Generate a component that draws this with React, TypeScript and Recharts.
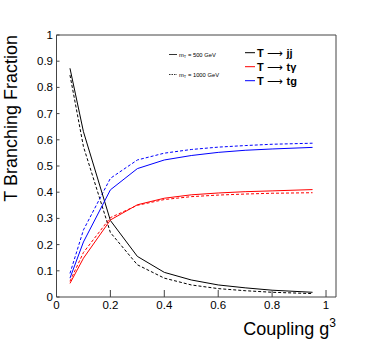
import { LineChart, Line, XAxis, YAxis, ReferenceArea } from 'recharts';

const couplings = [0.05, 0.1, 0.2, 0.3, 0.4, 0.5, 0.6, 0.7, 0.8, 0.95];

// m_T = 500 GeV (solid)
const jj500 = [0.873, 0.631, 0.292, 0.155, 0.094, 0.065, 0.046, 0.035, 0.026, 0.018];
const tgam500 = [0.052, 0.148, 0.294, 0.352, 0.377, 0.39, 0.397, 0.402, 0.405, 0.41];
const tg500 = [0.072, 0.21, 0.409, 0.49, 0.523, 0.54, 0.552, 0.56, 0.565, 0.571];

// m_T = 1000 GeV (dashed)
const jj1000 = [0.847, 0.574, 0.246, 0.123, 0.072, 0.046, 0.032, 0.024, 0.018, 0.013];
const tgam1000 = [0.06, 0.17, 0.303, 0.35, 0.372, 0.383, 0.389, 0.393, 0.396, 0.398];
const tg1000 = [0.09, 0.256, 0.453, 0.523, 0.549, 0.563, 0.572, 0.578, 0.583, 0.587];

const xTicks = [0, 0.2, 0.4, 0.6, 0.8, 1];
const yTicks = [0, 0.1, 0.2, 0.3, 0.4, 0.5, 0.6, 0.7, 0.8, 0.9, 1];

const data = couplings.map((g, i) => ({
  g,
  jj500: jj500[i], tgam500: tgam500[i], tg500: tg500[i],
  jj1000: jj1000[i], tgam1000: tgam1000[i], tg1000: tg1000[i],
}));

const FONT = '"Liberation Sans", Arial, sans-serif';
const FRAME = '#444';

function LeftTick({ x, y, payload }: any) {
  return (
    <g>
      <line x1={x} x2={x + 3} y1={y} y2={y} stroke={FRAME} />
      <text x={x - 3.5} y={y + 4} textAnchor="end" fontSize={11.5} fontFamily={FONT} fill="#000">{String(payload.value)}</text>
    </g>
  );
}

function BottomTick({ x, y, payload }: any) {
  return (
    <g>
      {payload.value !== 0 && <line x1={x} x2={x} y1={y} y2={y - 7} stroke={FRAME} />}
      <text x={x} y={y + 11.5} textAnchor="middle" fontSize={11.5} fontFamily={FONT} fill="#000">{String(payload.value)}</text>
    </g>
  );
}

function TopTick({ x, y, payload }: any) {
  if (payload.value === 0) return <g />;
  return <line x1={x} x2={x} y1={y} y2={y + 7} stroke={FRAME} />;
}

function RightTick({ x, y, payload }: any) {
  if (payload.value === 0 || payload.value === 1) return <g />;
  return <line x1={x} x2={x - 8} y1={y} y2={y} stroke={FRAME} />;
}

function Arrow() {
  return <tspan fontFamily='"DejaVu Sans", sans-serif' fontWeight="normal" fontSize={11}> ⟶ </tspan>;
}

export default function App() {
  const W = 374, H = 351;
  return (
    <div style={{ position: 'absolute', left: 0, top: 0, width: W, height: H, background: '#fff' }}>
      <LineChart width={W} height={H} data={data} margin={{ top: 35, right: 38, left: 0, bottom: 0 }}>
        <XAxis xAxisId="b" dataKey="g" type="number" domain={[0, 1.037]} ticks={xTicks} allowDataOverflow
          height={54} axisLine={false} tickLine={false} tickSize={0} tickMargin={0} tick={<BottomTick />} />
        <XAxis xAxisId="t" orientation="top" dataKey="g" type="number" domain={[0, 1.037]} ticks={xTicks} allowDataOverflow
          height={0} axisLine={false} tickLine={false} tickSize={0} tickMargin={0} tick={<TopTick />} />
        <YAxis yAxisId="l" type="number" domain={[0, 1]} ticks={yTicks} width={56.5}
          axisLine={false} tickLine={false} tickSize={0} tickMargin={0} tick={<LeftTick />} />
        <YAxis yAxisId="r" orientation="right" type="number" domain={[0, 1]} ticks={yTicks} width={0}
          axisLine={false} tickLine={false} tickSize={0} tickMargin={0} tick={<RightTick />} />
        <ReferenceArea xAxisId="b" yAxisId="l" x1={0} x2={1.037} y1={0} y2={1} fill="none" stroke={FRAME} strokeWidth={1} ifOverflow="extendDomain" />
        <Line xAxisId="b" yAxisId="l" dataKey="jj1000" stroke="#000" strokeWidth={1} strokeDasharray="3 2" dot={false} isAnimationActive={false} />
        <Line xAxisId="b" yAxisId="l" dataKey="tgam1000" stroke="#ff0000" strokeWidth={1} strokeDasharray="3 2" dot={false} isAnimationActive={false} />
        <Line xAxisId="b" yAxisId="l" dataKey="tg1000" stroke="#0000ff" strokeWidth={1} strokeDasharray="3 2" dot={false} isAnimationActive={false} />
        <Line xAxisId="b" yAxisId="l" dataKey="jj500" stroke="#000" strokeWidth={1} dot={false} isAnimationActive={false} />
        <Line xAxisId="b" yAxisId="l" dataKey="tgam500" stroke="#ff0000" strokeWidth={1} dot={false} isAnimationActive={false} />
        <Line xAxisId="b" yAxisId="l" dataKey="tg500" stroke="#0000ff" strokeWidth={1} dot={false} isAnimationActive={false} />
      </LineChart>
      <svg width={W} height={H} style={{ position: 'absolute', left: 0, top: 0, pointerEvents: 'none' }} fontFamily={FONT}>
        <text transform="translate(16.5,35) rotate(-90)" textAnchor="end" fontSize={18} fill="#000">T Branching Fraction</text>
        <text x={336} y={335} textAnchor="end" fontSize={18} fill="#000">
          Coupling g<tspan dy={-8} fontSize={12}>3</tspan>
        </text>

        <line x1={169} x2={177} y1={54.5} y2={54.5} stroke="#000" strokeWidth={0.8} />
        <text x={179} y={56.5} fontSize={5.8} fill="#000">m<tspan fontSize={4} dy={1.5}>T</tspan><tspan dy={-1.5}> = 500 GeV</tspan></text>
        <line x1={169} x2={177} y1={74.5} y2={74.5} stroke="#000" strokeWidth={0.8} strokeDasharray="1.5 1" />
        <text x={179} y={76.5} fontSize={5.8} fill="#000">m<tspan fontSize={4} dy={1.5}>T</tspan><tspan dy={-1.5}> = 1000 GeV</tspan></text>

        <line x1={245} x2={255} y1={52.7} y2={52.7} stroke="#000" />
        <text x={257} y={57} fontSize={11} fontWeight="bold" fill="#000">T<Arrow />jj</text>
        <line x1={245} x2={255} y1={66.7} y2={66.7} stroke="#ff0000" />
        <text x={257} y={71} fontSize={11} fontWeight="bold" fill="#000">T<Arrow />tγ</text>
        <line x1={245} x2={255} y1={80.7} y2={80.7} stroke="#0000ff" />
        <text x={257} y={85} fontSize={11} fontWeight="bold" fill="#000">T<Arrow />tg</text>
      </svg>
    </div>
  );
}
